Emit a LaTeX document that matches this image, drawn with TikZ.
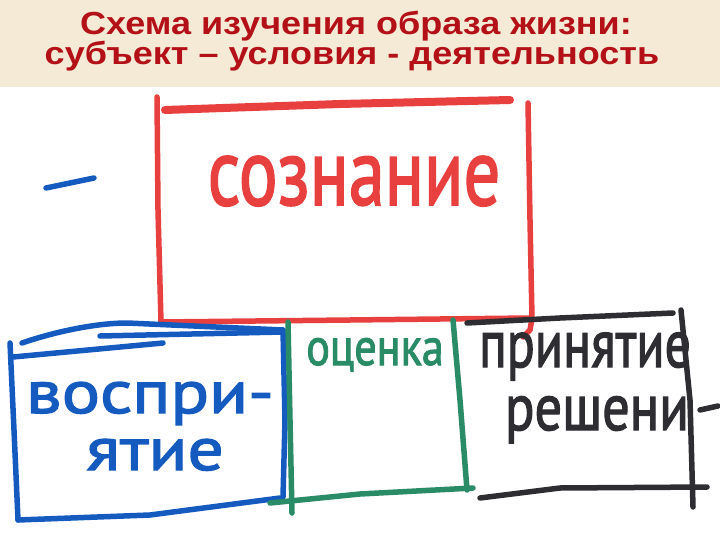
\documentclass[tikz,border=0pt]{standalone}
\usepackage{fontspec}
\usepackage{graphicx}
\setmainfont{Liberation Sans}
\newfontfamily\handfont[FakeBold=2]{PT Sans}
\newlength{\du}
\setlength{\du}{1bp}
\definecolor{titlebg}{rgb}{0.957, 0.918, 0.835}
\definecolor{titlered}{rgb}{0.706, 0.063, 0.094}
\definecolor{penred}{rgb}{0.910, 0.247, 0.247}
\definecolor{penblue}{rgb}{0.082, 0.357, 0.749}
\definecolor{pengreen}{rgb}{0.165, 0.545, 0.404}
\definecolor{penblack}{rgb}{0.176, 0.176, 0.196}
\tikzset{
  penline/.style={line width=5.5\du, line cap=round, line join=round},
  titletext/.style={anchor=base, inner sep=0pt, text=titlered,
    font=\bfseries\fontsize{32}{32}\selectfont},
  hand/.style={anchor=base, inner sep=0pt,
    font=\handfont\fontsize{#1}{#1}\selectfont},
}
\newcommand{\handscale}[3]{\scalebox{#1}[#2]{#3}}

\begin{document}
\begin{tikzpicture}
\pgftransformxscale{1.000000}
\pgftransformyscale{-1.000000}
\useasboundingbox (0\du,0\du) rectangle (720\du,540\du);
\fill[white] (0\du,0\du) rectangle (720\du,540\du);
% title bar
\fill[titlebg] (0\du,0\du) rectangle (720\du,87\du);
\node[titletext] (title1) at (356\du,35\du) {\handscale{1.13}{1}{Схема изучения образа жизни:}};
\node[titletext] (title2) at (352\du,65\du) {\handscale{1.13}{1}{субъект – условия - деятельность}};
% red frame
\draw[penline, penred, line width=8\du] (165\du,110\du)--(340\du,104\du)--(510\du,100\du);
\draw[penline, penred] (157\du,97\du)--(158\du,210\du)--(161\du,322\du);
\draw[penline, penred] (528\du,103\du)--(530\du,220\du)--(532\du,318\du)--(530\du,330\du)--(523\du,337\du);
\draw[penline, penred] (161\du,322\du)--(350\du,320\du)--(530\du,318\du);
\node[hand=70, text=penred] (soznanie) at (354\du,205\du) {\handscale{1.04}{1.37}{сознание}};
% blue frame
\draw[penline, penblue] (22\du,343\du) .. controls (60\du,330\du) and (100\du,323\du) .. (127\du,323\du)--(283\du,330\du);
\draw[penline, penblue] (100\du,336\du)--(283\du,332\du);
\draw[penline, penblue] (13\du,357\du)--(163\du,343\du);
\draw[penline, penblue] (10\du,343\du)--(14\du,430\du)--(18\du,520\du);
\draw[penline, penblue] (18\du,520\du)--(150\du,515\du)--(280\du,498\du);
\draw[penline, penblue] (283\du,330\du)--(285\du,420\du)--(283\du,497\du);
\draw[penline, penblue] (46\du,188\du)--(94\du,178\du);
\node[hand=64, text=penblue] (vospri) at (150\du,413\du) {\handscale{1.12}{0.95}{воспри-}};
\node[hand=64, text=penblue] (yatie) at (155\du,470\du) {\handscale{1.12}{0.95}{ятие}};
% green frame
\draw[penline, pengreen] (288\du,322\du)--(290\du,420\du)--(292\du,513\du);
\draw[penline, pengreen] (270\du,503\du)--(360\du,494\du)--(473\du,488\du);
\draw[penline, pengreen] (453\du,320\du)--(460\du,400\du)--(467\du,490\du);
\node[hand=44, text=pengreen] (ocenka) at (375\du,365\du) {\handscale{1.01}{1.2}{оценка}};
% black frame
\draw[penline, penblack] (467\du,323\du)--(560\du,318\du)--(673\du,313\du);
\draw[penline, penblack] (681\du,310\du)--(690\du,400\du)--(693\du,507\du);
\draw[penline, penblack] (480\du,498\du)--(560\du,488\du)--(707\du,487\du);
\draw[penline, penblack] (700\du,410\du)--(718\du,406\du);
\node[hand=50, text=penblack] (prinyatie) at (585\du,367\du) {\handscale{1.04}{1.35}{принятие}};
\node[hand=52, text=penblack] (resheni) at (597\du,430\du) {\handscale{1.05}{1.27}{решени}};
\end{tikzpicture}
\end{document}
